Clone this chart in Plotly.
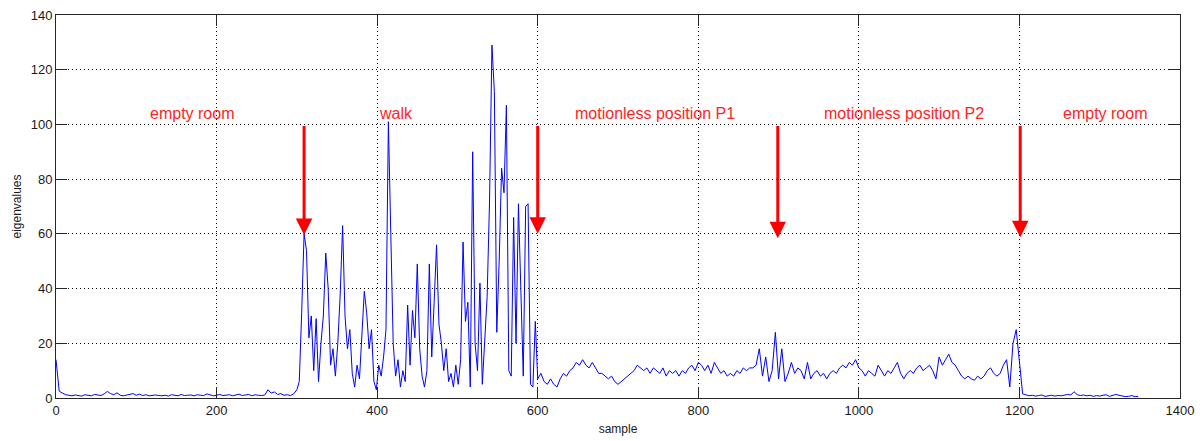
import plotly.graph_objects as go

# eigenvalue trace
# (each segment: first sample, sample step, values)
empty1_start, empty1_step = 0, 4
empty1_vals = [14.0, 2.5, 1.8, 1.2, 1.0, 0.8, 1.1, 0.9, 0.7, 1.2,
               1.0, 0.8, 1.3, 1.0, 0.9, 1.5, 2.4, 1.6, 1.2, 1.9,
               1.0, 0.8, 1.1, 1.3, 1.6, 1.0, 1.4, 0.9, 1.2, 0.8,
               1.0, 1.1, 0.9, 0.8, 1.0, 0.7, 1.2, 1.0, 0.8, 1.3,
               0.9, 1.0, 1.1, 0.8, 1.2, 1.0, 0.9, 1.5, 1.1, 0.8,
               1.0, 1.3, 0.9, 1.0, 1.2, 0.8, 1.1, 1.4, 0.9, 1.0,
               1.3, 0.8, 1.2, 1.0, 0.9, 1.1, 3.0, 1.8, 2.2, 1.3,
               1.6, 1.0, 1.2, 0.9, 1.5]

walk_start, walk_step = 300, 3
walk_vals = [3, 6, 31, 60, 54, 22, 30, 10, 29, 6,
             20, 30, 53, 40, 12, 18, 8, 20, 38, 63,
             30, 18, 25, 9, 4, 12, 7, 22, 39, 31,
             18, 25, 6, 3, 12, 8, 15, 25, 101, 60,
             20, 8, 14, 4, 10, 6, 34, 12, 32, 22,
             49, 18, 8, 4, 10, 49, 15, 35, 56, 27,
             20, 10, 18, 6, 9, 4, 12, 5, 14, 57,
             28, 35, 4, 90, 20, 10, 42, 5, 22, 37,
             72, 129, 112, 24, 50, 84, 75, 107, 10, 8,
             66, 20, 71, 35, 8, 70, 71, 5, 4, 28]

still_start, still_step = 600, 4
still_vals = [7, 9, 6, 5, 7, 5, 4, 7, 9, 8,
              10, 11, 13, 12, 14, 12, 11, 13, 11, 9,
              9, 8, 7, 8, 6, 5, 6, 7, 8, 9,
              10, 12, 11, 10, 11, 9, 11, 10, 9, 11,
              8, 10, 9, 10, 8, 10, 9, 11, 12, 10,
              13, 12, 10, 12, 9, 13, 11, 9, 10, 8,
              9, 8, 10, 9, 11, 10, 11, 11, 12, 18,
              8, 15, 6, 10, 24, 7, 18, 6, 9, 13,
              9, 11, 10, 7, 13, 7, 9, 10, 8, 9,
              7, 9, 10, 9, 11, 12, 11, 13, 12, 14,
              11, 10, 8, 10, 9, 8, 12, 10, 8, 10,
              9, 11, 13, 9, 7, 9, 10, 9, 11, 12,
              10, 11, 12, 10, 7, 15, 12, 14, 16, 13,
              12, 10, 8, 7, 8, 7, 6.5, 8, 7, 8,
              10, 11, 9, 8, 9, 12, 14, 4, 20, 25]

empty2_start, empty2_step = 1200, 4
empty2_vals = [14, 1.5, 1.2, 0.8, 1.0, 0.7, 0.9, 1.1, 0.6, 0.8,
               1.0, 0.7, 0.9, 0.8, 1.0, 1.3, 1.1, 2.3, 1.2, 0.9,
               1.1, 0.8, 1.0, 0.6, 0.9, 0.7, 1.0, 1.2, 0.6, 0.9,
               1.3, 1.0, 0.7, 0.5, 0.6, 0.9, 0.5, 0.6]

segments = [(empty1_start, empty1_step, empty1_vals),
            (walk_start, walk_step, walk_vals),
            (still_start, still_step, still_vals),
            (empty2_start, empty2_step, empty2_vals)]

sample, eigen = [], []
for start, step, vals in segments:
    for i, v in enumerate(vals):
        sample.append(start + step * i)
        eigen.append(v)

# phase labels and arrow markers
label_text = ['empty room', 'walk', 'motionless position P1',
              'motionless position P2', 'empty room']
label_x = [169, 424, 746, 1056, 1306]
label_y = 104
arrow_x = [309, 600, 899, 1201]
arrow_tip = [59.6, 60, 58.4, 58.8]
arrow_tail = 100

fig = go.Figure()
fig.add_trace(go.Scatter(x=sample, y=eigen, mode='lines',
                         line=dict(color='#0000ff', width=1),
                         showlegend=False, hoverinfo='skip'))

for t, x in zip(label_text, label_x):
    fig.add_annotation(x=x, y=label_y, text=t, showarrow=False,
                       xanchor='center', yanchor='middle',
                       font=dict(color='#ff2424', size=16))

for x, tip in zip(arrow_x, arrow_tip):
    fig.add_annotation(x=x, y=tip, ax=x, ay=arrow_tail,
                       xref='x', yref='y', axref='x', ayref='y',
                       text='', showarrow=True, arrowhead=2,
                       arrowsize=1.1, arrowwidth=3, arrowcolor='#ff0000')

axis_style = dict(showline=True, linecolor='#262626', linewidth=1,
                  mirror='ticks', ticks='inside', ticklen=11,
                  tickcolor='#262626', showgrid=True, gridcolor='#000000',
                  griddash='1px,3px', gridwidth=1, zeroline=False,
                  automargin=False,
                  tickfont=dict(size=13, color='#1a1a1a'))

fig.update_xaxes(range=[0, 1400], dtick=200, tick0=0,
                 title=dict(text='sample', standoff=8,
                            font=dict(size=12, color='#1a1a1a')),
                 **axis_style)
fig.update_yaxes(range=[0, 140], dtick=20, tick0=0,
                 title=dict(text='eigenvalues', standoff=6,
                            font=dict(size=12, color='#1a1a1a')),
                 **axis_style)

fig.update_layout(width=1200, height=441,
                  margin=dict(l=56, r=20, t=15, b=43),
                  plot_bgcolor='white', paper_bgcolor='white',
                  font=dict(family='Arial, Liberation Sans, sans-serif'))

# page body has a default 8px margin; remove it so the figure fills the window
fig.write_html('out.html', config={'displayModeBar': False},
               post_script="document.body.style.margin='0px';")
